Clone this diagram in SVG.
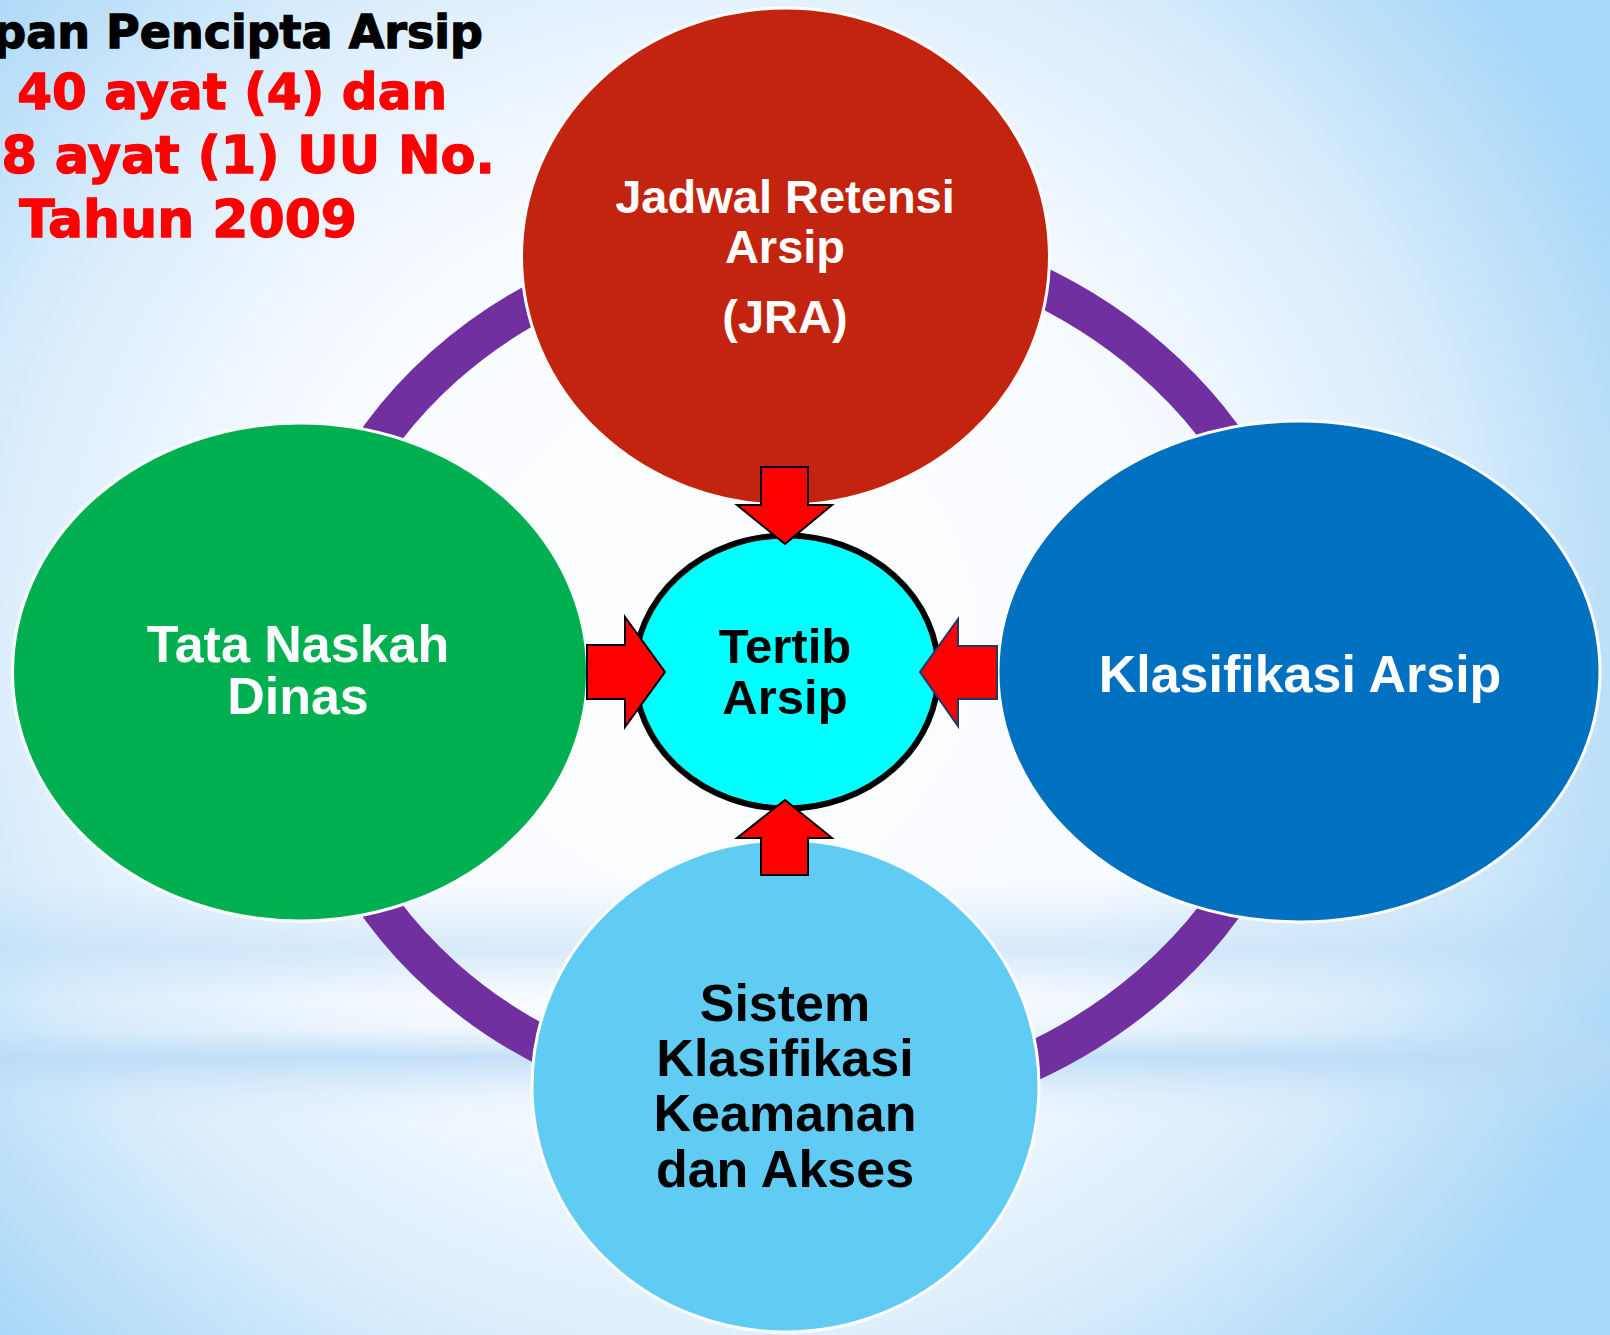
<svg xmlns="http://www.w3.org/2000/svg" width="1610" height="1335" viewBox="0 0 1610 1335">
  <defs>
    <radialGradient id="bg" gradientUnits="userSpaceOnUse" cx="720" cy="640" r="1000">
      <stop offset="0" stop-color="#ffffff"/>
      <stop offset="0.45" stop-color="#f8fbff"/>
      <stop offset="0.72" stop-color="#dceefc"/>
      <stop offset="1" stop-color="#a8d7f7"/>
    </radialGradient>
    <linearGradient id="bands" gradientUnits="userSpaceOnUse" x1="0" y1="880" x2="0" y2="1120">
      <stop offset="0" stop-color="#bcdcf6" stop-opacity="0"/>
      <stop offset="0.29" stop-color="#bcdcf6" stop-opacity="0.55"/>
      <stop offset="0.5" stop-color="#bcdcf6" stop-opacity="0"/>
      <stop offset="0.62" stop-color="#bcdcf6" stop-opacity="0.1"/>
      <stop offset="0.74" stop-color="#b8daf6" stop-opacity="0.8"/>
      <stop offset="0.9" stop-color="#bcdcf6" stop-opacity="0.15"/>
      <stop offset="1" stop-color="#bcdcf6" stop-opacity="0"/>
    </linearGradient>
    <style>
      .node { stroke: #ffffff; stroke-width: 3; }
      .lbl { font-family: "Liberation Sans", Arial, sans-serif; font-weight: bold; text-anchor: middle; }
      .title { font-family: "DejaVu Sans", Verdana, sans-serif; font-weight: bold; text-anchor: end; font-size: 50px; stroke-width: 1.3; }
      .arrow { fill: #ff0000; stroke: #000000; stroke-width: 2; stroke-linejoin: miter; }
      .link { fill: none; stroke: #7030a0; stroke-width: 39; }
    </style>
  </defs>

  <rect x="0" y="0" width="1610" height="1335" fill="url(#bg)"/>
  <rect x="0" y="880" width="1610" height="240" fill="url(#bands)"/>

  <g id="title">
    <text class="title" x="483" y="48" style="font-size:46px" fill="#000000" stroke="#000000">pan Pencipta Arsip</text>
    <text class="title" x="447" y="109" fill="#ff0000" stroke="#ff0000">40 ayat (4) dan</text>
    <text class="title" x="495" y="173" style="font-size:51px" fill="#ff0000" stroke="#ff0000">48 ayat (1) UU No.</text>
    <text class="title" x="357" y="237" style="font-size:52px" fill="#ff0000" stroke="#ff0000">3 Tahun 2009</text>
  </g>

  <g id="connectors">
    <path class="link" d="M 786,240 A 484,432 0 0 0 786,1104"/>
    <path class="link" d="M 786,228.5 A 515,443.5 0 0 1 786,1115.5"/>
  </g>

  <g id="node-jra">
    <ellipse class="node" cx="785.5" cy="256.5" rx="264" ry="248.5" fill="#c3240f"/>
    <text class="lbl" x="785" y="213" font-size="47" fill="#ffffff">Jadwal Retensi</text>
    <text class="lbl" x="785" y="263" font-size="47" fill="#ffffff">Arsip</text>
    <text class="lbl" x="785" y="333" font-size="47" fill="#ffffff">(JRA)</text>
  </g>

  <g id="node-tnd">
    <ellipse class="node" cx="300" cy="672" rx="287.5" ry="249" fill="#00b050"/>
    <text class="lbl" x="298" y="662" font-size="52" fill="#ffffff">Tata Naskah</text>
    <text class="lbl" x="298" y="714" font-size="52" fill="#ffffff">Dinas</text>
  </g>

  <g id="node-ka">
    <ellipse class="node" cx="1299" cy="671.5" rx="301" ry="250.5" fill="#0070c0"/>
    <text class="lbl" x="1300" y="692" font-size="52" fill="#ffffff">Klasifikasi Arsip</text>
  </g>

  <g id="node-skka">
    <ellipse class="node" cx="785.5" cy="1086" rx="253.5" ry="246" fill="#60cbf3"/>
    <text class="lbl" x="785" y="1021" font-size="52" fill="#000000">Sistem</text>
    <text class="lbl" x="785" y="1076" font-size="52" fill="#000000">Klasifikasi</text>
    <text class="lbl" x="785" y="1131" font-size="52" fill="#000000">Keamanan</text>
    <text class="lbl" x="785" y="1187" font-size="52" fill="#000000">dan Akses</text>
  </g>

  <g id="node-tertib">
    <ellipse cx="786.5" cy="672" rx="152" ry="136.5" fill="#00ffff" stroke="#000000" stroke-width="6"/>
    <text class="lbl" x="785" y="663" font-size="49" fill="#000000">Tertib</text>
    <text class="lbl" x="785" y="714" font-size="49" fill="#000000">Arsip</text>
  </g>

  <g id="arrows">
    <polygon class="arrow" points="761,467 808,467 808,505 832,505 785,544 737,505 761,505"/>
    <polygon class="arrow" points="761,875 808,875 808,838 832,838 785,800 737,838 761,838"/>
    <polygon class="arrow" points="587,645 625,645 625,617 665,672 625,727 625,699 587,699"/>
    <polygon class="arrow" points="997,646 958,646 958,619 920,672 958,726 958,699 997,699" style="stroke:#203864"/>
  </g>
</svg>
